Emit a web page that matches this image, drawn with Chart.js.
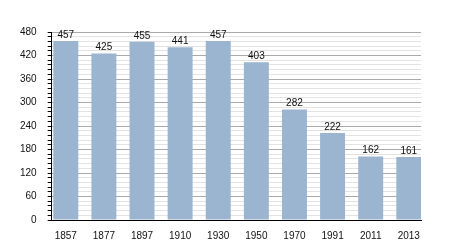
<!DOCTYPE html>
<html>
<head>
<meta charset="utf-8">
<script src="https://cdn.jsdelivr.net/npm/chart.js@4/dist/chart.umd.min.js"></script>
<style>
  html, body { margin: 0; padding: 0; background: #fff; }
  #wrap { width: 450px; height: 250px; }
</style>
</head>
<body>
<div id="wrap"><canvas id="popChart"></canvas></div>
<script>
// Population by census year
const years = ['1857', '1877', '1897', '1910', '1930', '1950', '1970', '1991', '2011', '2013'];
const population = [457, 425, 455, 441, 457, 403, 282, 222, 162, 161];

const FONT = { family: '"Liberation Sans", Arial, sans-serif', size: 10 };

/* Value labels above each bar */
const barValues = {
  id: 'barValues',
  afterDatasetsDraw(chart) {
    const ctx = chart.ctx;
    const meta = chart.getDatasetMeta(0);
    ctx.save();
    ctx.font = '10px "Liberation Sans", Arial, sans-serif';
    ctx.fillStyle = '#111';
    ctx.textAlign = 'center';
    ctx.textBaseline = 'bottom';
    meta.data.forEach((bar, i) => {
      ctx.fillText(String(population[i]), bar.x, bar.y - 1);
    });
    ctx.restore();
  },
};

new Chart(document.getElementById('popChart'), {
  type: 'bar',
  data: {
    datasets: [{
      data: population.map((v, i) => ({ x: i, y: v })),
      backgroundColor: '#9bb4cf',
      borderWidth: 0,
      categoryPercentage: 1,
      barPercentage: 0.655,
    }],
  },
  options: {
    responsive: true,
    maintainAspectRatio: false,
    animation: false,
    layout: { padding: { left: 9, right: 29, top: 32, bottom: 6 } },
    plugins: {
      legend: { display: false },
      tooltip: { enabled: false },
    },
    scales: {
      x: {
        type: 'linear',
        offset: false,
        min: -0.37,
        max: 9.32,
        grid: { display: false },
        border: { display: true, color: '#000', width: 1 },
        ticks: {
          stepSize: 1,
          includeBounds: false,
          autoSkip: false,
          maxRotation: 0,
          padding: 2,
          color: '#111',
          font: FONT,
          callback: (v) => (Number.isInteger(v) ? years[v] : ''),
        },
      },
      y: {
        min: 0,
        max: 480,
        grid: {
          color: (c) => (c.tick && c.tick.value % 60 === 0 ? '#a9a9a9' : '#e3e3e3'),
          tickColor: '#000',
          tickLength: 4,
        },
        border: { display: true, color: '#000', width: 1 },
        ticks: {
          stepSize: 12,
          autoSkip: false,
          padding: 11,
          color: '#111',
          font: FONT,
          callback: (v) => (v % 60 === 0 ? String(v) : ''),
        },
      },
    },
  },
  plugins: [barValues],
});
</script>
</body>
</html>
